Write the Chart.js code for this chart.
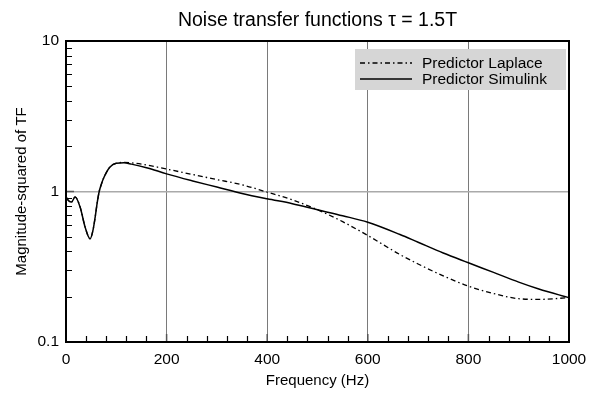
<!DOCTYPE html>
<html>
<head>
<meta charset="utf-8">
<script src="https://cdn.jsdelivr.net/npm/chart.js@4.4.0/dist/chart.umd.min.js"></script>
<style>
  html, body { margin: 0; padding: 0; background: #fff; }
  #wrap { width: 589px; height: 396px; }
</style>
</head>
<body>
<div id="wrap"><canvas id="tfChart" width="589" height="396"></canvas></div>
<script>
// values
const freqHz = [0, 5, 11, 18, 28, 38, 48, 54, 58, 62, 66, 70, 74, 87, 100, 115, 130, 160, 200, 250, 300, 350, 400,
  450, 500, 550, 600, 664, 700, 750, 800, 850, 900, 940, 1000];
const simulinkMag = [0.92, 0.87, 0.85, 0.92, 0.79, 0.58, 0.485, 0.56, 0.675, 0.84, 1.0, 1.11, 1.21, 1.45, 1.54, 1.55,
  1.52, 1.44, 1.31, 1.18, 1.07, 0.97, 0.894, 0.83, 0.756, 0.69, 0.625, 0.518, 0.46, 0.39, 0.336, 0.29, 0.25, 0.225, 0.197];
const laplaceMag = [0.92, 0.87, 0.85, 0.92, 0.79, 0.58, 0.485, 0.56, 0.675, 0.84, 1.0, 1.11, 1.21, 1.45, 1.54, 1.56,
  1.55, 1.50, 1.41, 1.30, 1.2, 1.108, 0.99, 0.88, 0.756, 0.63, 0.51, 0.381, 0.33, 0.275, 0.235, 0.21, 0.194, 0.192, 0.197];
const xTicks = [0, 200, 400, 600, 800, 1000];
const yTicks = [0.1, 1, 10];

const titleText = 'Noise transfer functions \u03c4 = 1.5T';
const FONT = '"Liberation Sans", Arial, Helvetica, sans-serif';

const toPoints = (ys) => freqHz.map((f, i) => ({ x: f, y: ys[i] }));

// minor ticks, frame, legend box and title
const framePlugin = {
  id: 'frame',
  afterDatasetsDraw(chart) {
    const { ctx, chartArea: a, scales } = chart;
    const xs = scales.x, ys = scales.y;
    ctx.save();
    ctx.setLineDash([]);
    ctx.strokeStyle = '#000';
    ctx.lineWidth = 1.2;
    ctx.beginPath();
    for (let f = 40; f < 1000; f += 40) {
      if (f % 200 === 0) continue;
      const px = Math.round(xs.getPixelForValue(f)) + 0.5;
      ctx.moveTo(px, a.bottom);
      ctx.lineTo(px, a.bottom - 6);
    }
    for (const dec of [0.1, 1]) {
      for (let k = 2; k <= 9; k++) {
        const py = Math.round(ys.getPixelForValue(dec * k)) + 0.5;
        ctx.moveTo(a.left, py);
        ctx.lineTo(a.left + 6, py);
      }
    }
    ctx.stroke();
    // major ticks
    ctx.strokeStyle = '#555';
    ctx.lineWidth = 1.5;
    ctx.beginPath();
    for (const f of xTicks.slice(1, -1)) {
      const px = xs.getPixelForValue(f);
      ctx.moveTo(px, a.bottom);
      ctx.lineTo(px, a.bottom - 8);
    }
    const p1 = ys.getPixelForValue(1);
    ctx.moveTo(a.left, p1);
    ctx.lineTo(a.left + 8, p1);
    ctx.stroke();

    ctx.strokeStyle = '#000';
    ctx.lineWidth = 2;
    ctx.strokeRect(a.left, a.top, a.right - a.left, a.bottom - a.top);

    // legend
    const bw = 211, bh = 41;
    const bx = a.right - 3 - bw, by = a.top + 8;
    ctx.fillStyle = '#d6d6d6';
    ctx.fillRect(bx, by, bw, bh);
    ctx.font = '15.5px ' + FONT;
    ctx.textBaseline = 'middle';
    chart.data.datasets.forEach((ds, i) => {
      const ry = by + 14 + i * 16;
      ctx.strokeStyle = ds.borderColor;
      ctx.lineWidth = ds.borderWidth;
      ctx.setLineDash(ds.borderDash || []);
      ctx.beginPath();
      ctx.moveTo(bx + 5, ry);
      ctx.lineTo(bx + 57, ry);
      ctx.stroke();
      ctx.setLineDash([]);
      ctx.fillStyle = '#000';
      ctx.textAlign = 'left';
      ctx.fillText(ds.label, bx + 67, ry + 1);
    });

    // title
    ctx.font = '19.5px ' + FONT;
    ctx.textAlign = 'center';
    ctx.textBaseline = 'middle';
    ctx.fillStyle = '#000';
    ctx.fillText(titleText, (a.left + a.right) / 2, 21);
    ctx.restore();
  }
};

new Chart(document.getElementById('tfChart'), {
  type: 'line',
  data: {
    datasets: [
      {
        label: 'Predictor Laplace',
        data: toPoints(laplaceMag),
        borderColor: '#000',
        borderWidth: 1.3,
        borderDash: [5, 3, 1.5, 3],
        pointRadius: 0,
        cubicInterpolationMode: 'monotone'
      },
      {
        label: 'Predictor Simulink',
        data: toPoints(simulinkMag),
        borderColor: '#000',
        borderWidth: 1.5,
        pointRadius: 0,
        cubicInterpolationMode: 'monotone'
      }
    ]
  },
  options: {
    responsive: false,
    animation: false,
    layout: { padding: { top: 41, right: 20, left: 0, bottom: 0 } },
    plugins: {
      legend: { display: false },
      title: { display: false },
      tooltip: { enabled: false }
    },
    scales: {
      x: {
        type: 'linear',
        min: 0,
        max: 1000,
        afterBuildTicks: (s) => { s.ticks = xTicks.map(v => ({ value: v })); },
        afterFit: (s) => { s.height = 54; s.paddingLeft = 0; s.paddingRight = 0; },
        grid: { color: '#7a7a7a', lineWidth: 1, drawTicks: false },
        border: { display: false },
        ticks: { color: '#000', padding: 8, maxRotation: 0, callback: (v) => String(v),
          font: { family: FONT, size: 15.5 } },
        title: { display: true, text: 'Frequency (Hz)', color: '#000', padding: { top: 0, bottom: 6 },
          font: { family: FONT, size: 15 } }
      },
      y: {
        type: 'logarithmic',
        min: 0.1,
        max: 10,
        afterBuildTicks: (s) => { s.ticks = yTicks.map(v => ({ value: v })); },
        afterFit: (s) => { s.width = 66; s.paddingTop = 0; s.paddingBottom = 0; },
        grid: { color: '#aaaaaa', lineWidth: 1.5, drawTicks: false },
        border: { display: false },
        ticks: { color: '#000', padding: 7, callback: (v) => String(v), font: { family: FONT, size: 15.5 } },
        title: { display: true, text: 'Magnitude-squared of TF', color: '#000', padding: { top: 13, bottom: 0 },
          font: { family: FONT, size: 15 } }
      }
    }
  },
  plugins: [framePlugin]
});
</script>
</body>
</html>
